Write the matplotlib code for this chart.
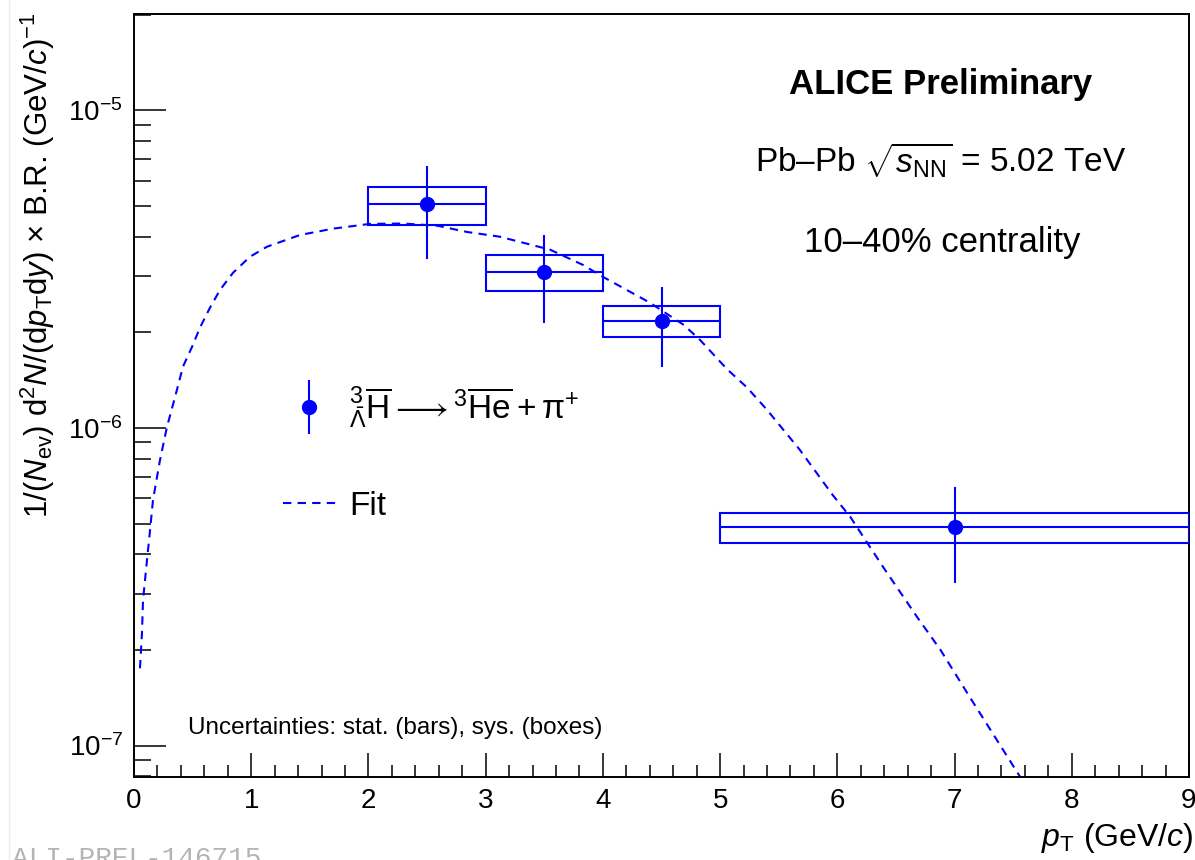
import matplotlib
matplotlib.use("Agg")
import matplotlib.pyplot as plt
import numpy as np
from matplotlib.patches import Rectangle
from matplotlib.lines import Line2D
from matplotlib.container import ErrorbarContainer
from matplotlib.legend_handler import HandlerErrorbar
from matplotlib.ticker import MultipleLocator, LogLocator, NullFormatter

plt.rcParams['font.family'] = ['Liberation Sans', 'DejaVu Sans']
plt.rcParams['mathtext.fontset'] = 'custom'
plt.rcParams['mathtext.rm'] = 'Liberation Sans'
plt.rcParams['mathtext.it'] = 'Liberation Sans:italic'
plt.rcParams['mathtext.bf'] = 'Liberation Sans:bold'

# anti-hypertriton spectrum, Pb-Pb 5.02 TeV, 10-40%
pt = np.array([2.5, 3.5, 4.5, 7.0])
pt_lo = np.array([2.0, 3.0, 4.0, 5.0])
pt_hi = np.array([3.0, 4.0, 5.0, 9.0])
yld = np.array([5.08e-6, 3.10e-6, 2.17e-6, 4.88e-7])
stat_hi = np.array([6.69e-6, 4.05e-6, 2.78e-6, 6.52e-7])
stat_lo = np.array([3.41e-6, 2.14e-6, 1.56e-6, 3.25e-7])
sys_hi = np.array([5.74e-6, 3.51e-6, 2.42e-6, 5.40e-7])
sys_lo = np.array([4.36e-6, 2.70e-6, 1.94e-6, 4.34e-7])

# fit function evaluated on a pT grid
fit_pt = [0.051, 0.068, 0.077, 0.111, 0.137, 0.162, 0.222, 0.282, 0.350,
          0.418, 0.495, 0.563, 0.648, 0.734, 0.845, 0.990, 1.135, 1.416,
          1.698, 2.014, 2.30, 2.59, 2.84, 3.12, 3.55, 3.83, 4.00, 4.40,
          4.69, 4.83, 5.06, 5.23, 5.40, 5.68, 5.96, 6.11, 6.39, 6.68, 6.88,
          7.12, 7.56]
fit_val = [1.75e-7, 2.26e-7, 2.87e-7, 3.84e-7, 4.77e-7, 5.93e-7, 7.93e-7,
           1.01e-6, 1.25e-6, 1.56e-6, 1.80e-6, 2.07e-6, 2.39e-6, 2.72e-6,
           3.08e-6, 3.46e-6, 3.72e-6, 4.05e-6, 4.24e-6, 4.39e-6, 4.40e-6,
           4.33e-6, 4.14e-6, 4.00e-6, 3.64e-6, 3.26e-6, 2.99e-6, 2.48e-6,
           2.11e-6, 1.89e-6, 1.53e-6, 1.34e-6, 1.14e-6, 8.53e-7, 6.15e-7,
           5.25e-7, 3.65e-7, 2.54e-7, 2.00e-7, 1.44e-7, 7.96e-8]

blue = (0, 0, 1)

fig = plt.figure(figsize=(11.95, 8.6), dpi=100)
ax = fig.add_axes([134 / 1195, 1 - 777 / 860, 1055 / 1195, 763 / 860])

# systematic boxes
for lo, hi, b, t in zip(pt_lo, pt_hi, sys_lo, sys_hi):
    ax.add_patch(Rectangle((lo, b), hi - lo, t - b, fill=False,
                           edgecolor=blue, linewidth=1.5, zorder=3))

# bin width lines
ax.hlines(yld, pt_lo, pt_hi, color=blue, linewidth=1.5, zorder=3)

fit_line, = ax.plot(fit_pt, fit_val, color=blue, linewidth=1.5,
                    linestyle=(0, (4, 3)), zorder=2)

pts = ax.errorbar(pt, yld, yerr=[yld - stat_lo, stat_hi - yld], fmt='o',
                  color=blue, ms=10, elinewidth=1.5, capsize=0, zorder=4)

ax.set_yscale('log')
ax.set_xlim(0, 9)
ax.set_ylim(7.96e-8, 2.01e-5)

ax.xaxis.set_major_locator(MultipleLocator(1))
ax.xaxis.set_minor_locator(MultipleLocator(0.2))
ax.yaxis.set_major_locator(LogLocator(base=10))
ax.yaxis.set_minor_locator(LogLocator(base=10, subs=np.arange(2, 10)))
ax.yaxis.set_minor_formatter(NullFormatter())

ax.tick_params(axis='both', which='both', direction='in', width=1.1,
               top=False, right=False, labelsize=20, color='black')
ax.tick_params(axis='y', which='major', length=23, pad=8)
ax.tick_params(axis='y', which='minor', length=12)
ax.tick_params(axis='x', which='major', length=17, pad=8)
ax.tick_params(axis='x', which='minor', length=8.5)
for s in ax.spines.values():
    s.set_linewidth(1.4)

decay = (r'${}^{3}_{\bar{\Lambda}}\overline{\mathrm{H}}\longrightarrow'
         r'{}^{3}\overline{\mathrm{He}}+\mathrm{\pi}^{+}$')
leg = ax.legend([pts, fit_line], [decay, 'Fit'],
                loc='upper left', bbox_to_anchor=(0.141, 0.515), frameon=False,
                fontsize=24, handlelength=1.6, handletextpad=0.4,
                labelspacing=1.8, borderpad=0, borderaxespad=0,
                handler_map={ErrorbarContainer: HandlerErrorbar(yerr_size=0.82)})

ax.text(0.765, 0.907, 'ALICE Preliminary', transform=ax.transAxes,
        ha='center', va='center', fontsize=25, fontweight='bold')
ax.text(0.765, 0.808, r'Pb–Pb $\sqrt{s_{\mathrm{NN}}}$ = 5.02 TeV',
        transform=ax.transAxes, ha='center', va='center', fontsize=24)
ax.text(0.766, 0.700, '10–40% centrality', transform=ax.transAxes,
        ha='center', va='center', fontsize=25)
ax.text(0.051, 0.064, 'Uncertainties: stat. (bars), sys. (boxes)',
        transform=ax.transAxes, ha='left', va='center', fontsize=17.5)

fig.text(0.999, 1 - 838 / 860, r'$p_{\mathrm{T}}$ (GeV/$c$)', ha='right',
         va='center', fontsize=23)
fig.text(38 / 1195, 1 - 265 / 860,
         r'1/($N_{\mathrm{ev}}$) d$^{2}N$/(d$p_{\mathrm{T}}$d$y$) $\times$ B.R. (GeV/$c$)$^{-1}$',
         rotation=90, ha='center', va='center', fontsize=22.5)

fig.text(12 / 1195, 1 - 846 / 860, 'ALI-PREL-146715', family='Liberation Mono',
         color='#b4b4b4', fontsize=20, ha='left', va='top')
fig.add_artist(Line2D([9 / 1195, 9 / 1195], [0, 1], color='#ececec', linewidth=1))

fig.savefig('out.png', dpi=100)
